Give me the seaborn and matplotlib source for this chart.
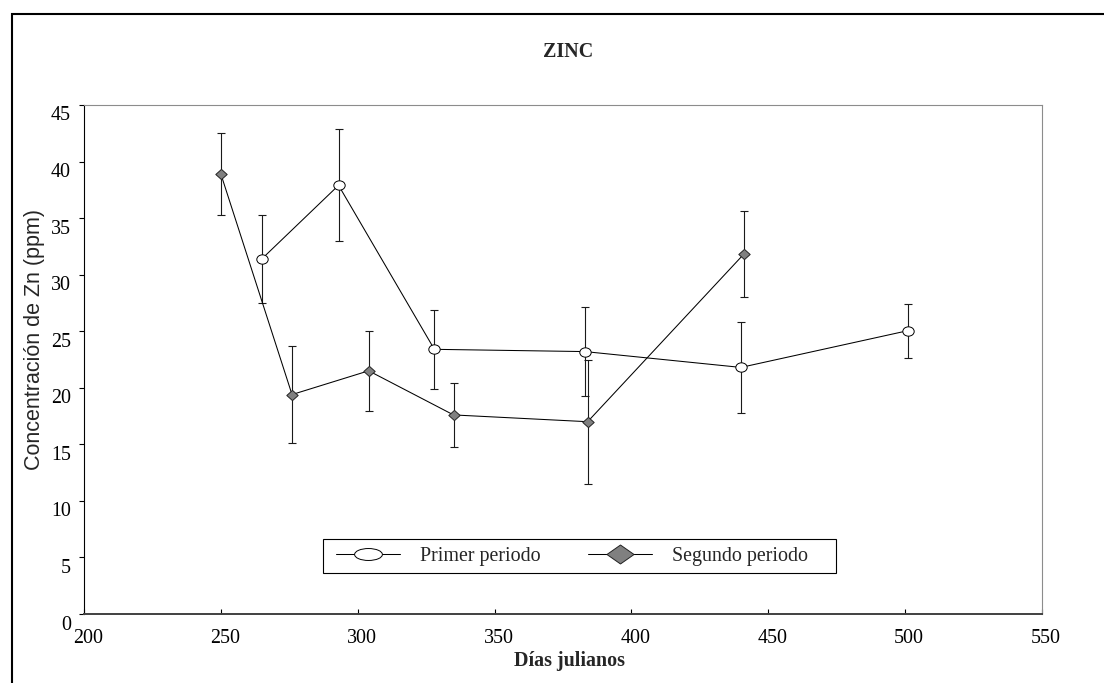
import numpy as np
import pandas as pd
import matplotlib
matplotlib.use("Agg")
import matplotlib.pyplot as plt
import seaborn as sns
from matplotlib.path import Path
from matplotlib.patches import Rectangle
from matplotlib.lines import Line2D
from matplotlib.transforms import ScaledTranslation

# Zinc concentration (ppm) by Julian day, mean ± error, for each sampling period
dias_primer = [265, 293, 328, 383, 440, 501]
zn_primer = [31.4, 37.9, 23.4, 23.2, 21.8, 25.05]
err_primer = [3.9, 4.95, 3.5, 3.9, 4.05, 2.4]

dias_segundo = [250, 276, 304, 335, 384, 441]
zn_segundo = [38.9, 19.4, 21.5, 17.6, 17.0, 31.8]
err_segundo = [3.6, 4.3, 3.55, 2.8, 5.5, 3.8]

series_names = ["Primer periodo", "Segundo periodo"]
x_ticks = [200, 250, 300, 350, 400, 450, 500, 550]
y_ticks = [0, 5, 10, 15, 20, 25, 30, 35, 40, 45]

sns.set_style("white")
plt.rcParams["font.family"] = ["Liberation Serif", "DejaVu Serif"]

SERIF = "Liberation Serif"
SANS = "Liberation Sans"
FS = 14.4

# figure geometry in pixels
W, H = 1104, 683
AX_L, AX_R, AX_T, AX_B = 84, 1042, 105, 614


def ax_x(px):
    return (px - AX_L) / (AX_R - AX_L)


def ax_y(py):
    return (AX_B - py) / (AX_B - AX_T)


def ellipse_marker(ry):
    c = Path.unit_circle()
    return Path(c.vertices * np.array([1.0, ry]), c.codes)


def diamond_marker(ry):
    return Path([(0, ry), (1, 0), (0, -ry), (-1, 0), (0, ry)],
                [Path.MOVETO, Path.LINETO, Path.LINETO, Path.LINETO, Path.CLOSEPOLY])


df_primer = pd.DataFrame({"dia": dias_primer, "zn": zn_primer, "err": err_primer})
df_segundo = pd.DataFrame({"dia": dias_segundo, "zn": zn_segundo, "err": err_segundo})

fig = plt.figure(figsize=(W / 100, H / 100), dpi=100)
ax = fig.add_axes([AX_L / W, 1 - AX_B / H, (AX_R - AX_L) / W, (AX_B - AX_T) / H])

# error bars underneath the lines and markers
for d in (df_primer, df_segundo):
    ax.errorbar(d["dia"], d["zn"], yerr=d["err"], fmt="none", ecolor="#1a1a1a",
                elinewidth=0.8, capsize=3.0, capthick=0.8, zorder=2)

sns.lineplot(data=df_segundo, x="dia", y="zn", ax=ax, color="black", linewidth=0.75,
             errorbar=None, marker=diamond_marker(0.9), markersize=8.2,
             markerfacecolor="#808080", markeredgecolor="#222222", markeredgewidth=0.7,
             zorder=3)
sns.lineplot(data=df_primer, x="dia", y="zn", ax=ax, color="black", linewidth=0.75,
             errorbar=None, marker=ellipse_marker(0.82), markersize=8.2,
             markerfacecolor="white", markeredgecolor="black", markeredgewidth=0.7,
             zorder=4)

ax.set_xlim(200, 550)
ax.set_ylim(0, 45)
ax.set_xticks(x_ticks)
ax.set_yticks(y_ticks)
ax.set_xticklabels([str(v) for v in x_ticks], fontfamily=SERIF, fontsize=FS)
ax.set_yticklabels([str(v) for v in y_ticks], fontfamily=SERIF, fontsize=FS)

ax.tick_params(axis="y", left=True, direction="out", length=3.4, width=0.8,
               pad=6, colors="black")
ax.tick_params(axis="x", bottom=True, direction="in", length=3.4, width=0.8,
               pad=11, colors="black")

# tick labels sit slightly off their ticks
for lab in ax.get_yticklabels():
    lab.set_transform(lab.get_transform() + ScaledTranslation(0, -8.5 / 100, fig.dpi_scale_trans))
for lab in ax.get_xticklabels():
    lab.set_transform(lab.get_transform() + ScaledTranslation(4 / 100, 0, fig.dpi_scale_trans))

for side in ("top", "right"):
    ax.spines[side].set_visible(True)
    ax.spines[side].set_color("#8c8c8c")
    ax.spines[side].set_linewidth(0.8)
ax.spines["left"].set_color("black")
ax.spines["left"].set_linewidth(0.8)
ax.spines["bottom"].set_color("#404040")
ax.spines["bottom"].set_linewidth(1.4)

ax.set_xlabel("Días julianos", fontfamily=SERIF, fontsize=FS, fontweight="bold", va="center")
ax.xaxis.set_label_coords(ax_x(569), ax_y(661))
ax.set_ylabel("Concentración de Zn (ppm)", fontfamily=SANS, fontsize=15.5, va="center")
ax.yaxis.set_label_coords(ax_x(35), ax_y(339))

ax.text(ax_x(568.5), ax_y(52), "ZINC", transform=ax.transAxes,
        ha="center", va="center", fontfamily=SERIF, fontsize=FS, fontweight="bold")

handles = [
    Line2D([], [], color="black", linewidth=0.75, marker=ellipse_marker(0.43), markersize=20,
           markerfacecolor="white", markeredgecolor="black", markeredgewidth=0.7),
    Line2D([], [], color="black", linewidth=0.75, marker=diamond_marker(0.7), markersize=19.5,
           markerfacecolor="#808080", markeredgecolor="#222222", markeredgewidth=0.7),
]
leg = ax.legend(handles, series_names, loc="center left",
                bbox_to_anchor=(ax_x(330), ax_y(556)),
                borderaxespad=0, ncol=2, frameon=False, borderpad=0.3,
                handlelength=3.2, handletextpad=1.0, columnspacing=2.35, numpoints=1,
                prop={"family": SERIF, "size": FS})

# legend box
ax.add_patch(Rectangle((ax_x(323), ax_y(573)), ax_x(836) - ax_x(323), ax_y(539) - ax_y(573),
                       transform=ax.transAxes, fill=True, facecolor="white",
                       edgecolor="black", linewidth=0.8, zorder=4.5))
leg.set_zorder(5)

# outer frame around the whole figure
fig.add_artist(Rectangle((11.5 / W, -0.05), 1.2, 1 - 13.8 / H + 0.05,
                         transform=fig.transFigure, fill=False, edgecolor="black",
                         linewidth=1.5, clip_on=False))

fig.savefig("out.png", dpi=100)
